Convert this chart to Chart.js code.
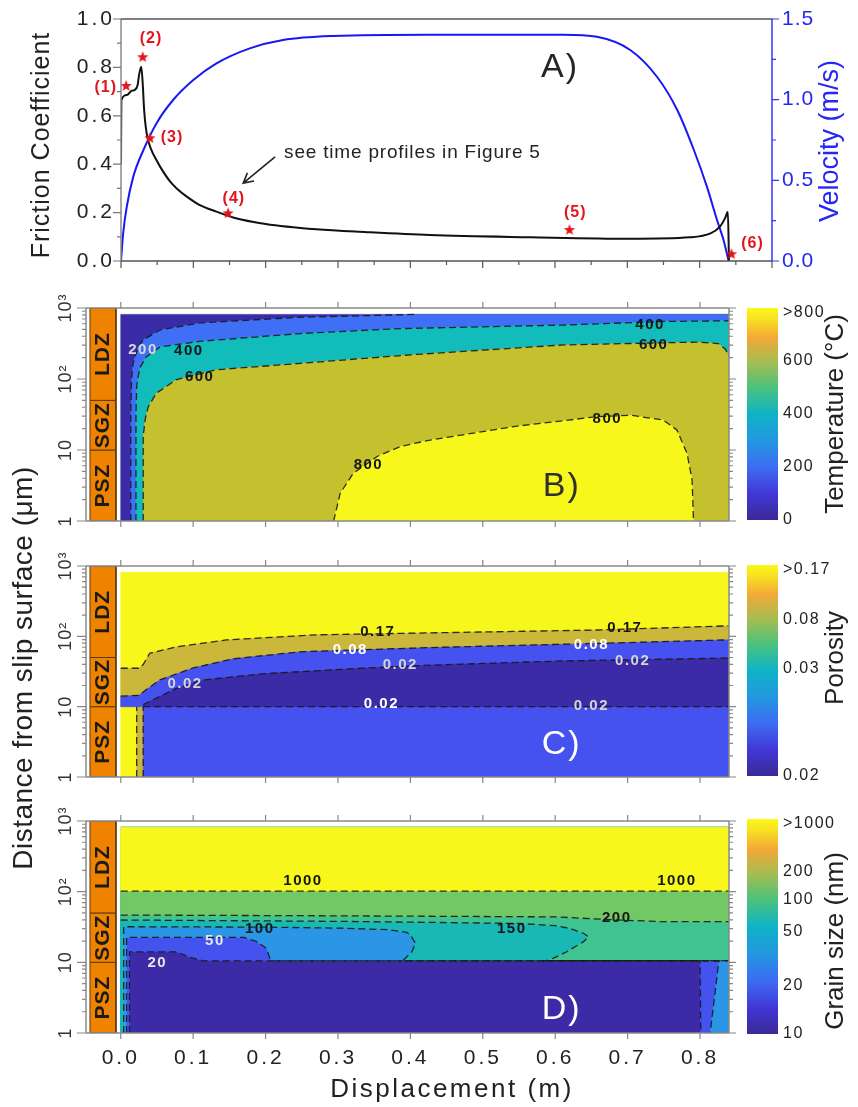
<!DOCTYPE html>
<html>
<head>
<meta charset="utf-8">
<title>Friction, temperature, porosity and grain size vs displacement</title>
<script src="https://cdn.jsdelivr.net/npm/chart.js@4.4.1/dist/chart.umd.min.js"></script>
<style>
  body { margin: 0; background: #fff; }
  #page { position: relative; width: 858px; height: 1107px; overflow: hidden; }
  #page canvas { position: absolute; }
</style>
</head>
<body>
<div id="page">
  <canvas id="cvA" width="858" height="282" style="left:0;top:0"></canvas>
  <canvas id="cvB" width="740" height="258" style="left:0;top:282px"></canvas>
  <canvas id="cvD" width="740" height="312" style="left:0;top:795px"></canvas>
  <canvas id="cvC" width="740" height="460" style="left:0;top:440px"></canvas>
  <canvas id="cbB" width="118" height="258" style="left:740px;top:282px"></canvas>
  <canvas id="cbC" width="118" height="258" style="left:740px;top:540px"></canvas>
  <canvas id="cbD" width="118" height="312" style="left:740px;top:795px"></canvas>
</div>
<script>
// ---- panel A: friction and velocity against displacement ----
var dispFric = [0, 0.0005, 0.008, 0.015, 0.019, 0.023, 0.025, 0.028, 0.030, 0.032, 0.0355, 0.042, 0.049, 0.054, 0.068, 0.077, 0.091, 0.109, 0.132, 0.155, 0.2, 0.27, 0.34, 0.427, 0.566, 0.704, 0.787, 0.815, 0.828, 0.835, 0.839, 0.8405];
var friction = [0.40, 0.665, 0.686, 0.704, 0.707, 0.727, 0.769, 0.803, 0.734, 0.624, 0.527, 0.459, 0.417, 0.39, 0.328, 0.30, 0.266, 0.231, 0.204, 0.18, 0.153, 0.131, 0.119, 0.107, 0.098, 0.092, 0.098, 0.114, 0.142, 0.176, 0.202, 0.0];
var dispVel = [0, 0.003, 0.008, 0.017, 0.031, 0.049, 0.072, 0.1, 0.132, 0.178, 0.224, 0.294, 0.427, 0.612, 0.658, 0.704, 0.741, 0.769, 0.792, 0.81, 0.824, 0.833, 0.84];
var velocity = [0, 0.172, 0.337, 0.523, 0.688, 0.853, 0.998, 1.122, 1.225, 1.318, 1.37, 1.395, 1.403, 1.403, 1.39, 1.308, 1.142, 0.936, 0.688, 0.461, 0.254, 0.13, 0];
var starDisp = [0.007, 0.030, 0.040, 0.148, 0.62, 0.844];
var starFric = [0.723, 0.842, 0.507, 0.197, 0.128, 0.028];
var starNames = ['(1)', '(2)', '(3)', '(4)', '(5)', '(6)'];

// ---- zones beside the maps (distance from slip surface, um) ----
var zoneNames = ['PSZ', 'SGZ', 'LDZ'];
var zoneBottom = [1, 10, 50];
var zoneTop = [10, 50, 1000];

// extent of the modelled maps
var mapEnd = 0.84;
var mapTop = 813;

// ---- panel B: temperature contours [displacement m, distance um] ----
var temp200 = [[0.0138, 1], [0.0138, 31.6], [0.015, 100], [0.017, 166], [0.024, 282], [0.031, 355], [0.054, 490], [0.109, 617], [0.248, 741], [0.41, 813]];
var temp400 = [[0.021, 1], [0.021, 31.6], [0.022, 79], [0.026, 141], [0.035, 204], [0.054, 282], [0.109, 339], [0.248, 437], [0.386, 513], [0.612, 575], [0.75, 646], [0.84, 661]];
var temp600 = [[0.031, 1], [0.031, 15.8], [0.034, 28], [0.038, 40.7], [0.049, 63], [0.077, 98], [0.132, 135], [0.248, 166], [0.4, 219], [0.612, 302], [0.796, 331], [0.825, 316], [0.835, 263], [0.84, 209]];
var temp800 = [[0.294, 1], [0.303, 2.45], [0.321, 4.68], [0.354, 8.1], [0.386, 11.2], [0.427, 13.8], [0.543, 21.4], [0.658, 29.5], [0.704, 30.9], [0.749, 26.5], [0.768, 19.2], [0.782, 9.0], [0.789, 3.8], [0.791, 1]];

// ---- panel C: porosity contours ----
var poro017 = [[0, 35.2], [0.025, 35.2], [0.031, 39.8], [0.04, 57.5], [0.077, 70.8], [0.146, 89], [0.27, 105], [0.427, 112], [0.658, 123], [0.84, 141]];
var poro008 = [[0, 14.1], [0.025, 14.5], [0.035, 17.4], [0.054, 24], [0.1, 35.5], [0.155, 47.9], [0.248, 60.3], [0.427, 69.2], [0.658, 79.4], [0.84, 89.1]];
var poro002a = [[0.031, 10.7], [0.049, 13.2], [0.077, 18.2], [0.114, 24], [0.2, 29.5], [0.34, 35.5], [0.427, 38.9], [0.612, 44.7], [0.84, 49]];
var poro002b = [[0.031, 10], [0.84, 10]];
var poroEdge1 = [[0.022, 1], [0.022, 10]];
var poroEdge2 = [[0.031, 1], [0.031, 10]];

// ---- panel D: grain size contours ----
var grain20 = [[0.012, 1], [0.012, 14.1], [0.077, 14.1], [0.095, 11.8], [0.114, 10.5], [0.80, 10.5], [0.801, 1]];
var grain50 = [[0.008, 1], [0.008, 22.5], [0.17, 22.5], [0.188, 19.6], [0.201, 15.8], [0.206, 11.4], [0.21, 10.5], [0.80, 10.5], [0.826, 10.5], [0.814, 1]];
var grain100 = [[0.004, 1], [0.004, 31.9], [0.2, 31.5], [0.3, 30.5], [0.37, 29], [0.395, 26.5], [0.40, 24.4], [0.407, 18.6], [0.402, 14.1], [0.393, 11.4], [0.389, 10.5], [0.84, 10.5]];
var grain150 = [[0, 39.7], [0.3, 38], [0.45, 36.5], [0.55, 35.5], [0.6, 33], [0.62, 30.2], [0.639, 25.8], [0.646, 23], [0.639, 19.6], [0.616, 14.1], [0.597, 11.4], [0.588, 10.6], [0.84, 10.6]];
var grain200 = [[0, 46.7], [0.3, 45.5], [0.6, 44], [0.68, 40], [0.75, 37.6], [0.84, 37.6]];
var grain1000 = [[0, 102], [0.84, 102]];

// ---- axis ticks ----
var logMajor = [1, 10, 100, 1000];
var logMajorText = ['1', '10', '10²', '10³'];
var logMinor = [2, 3, 4, 5, 6, 7, 8, 9, 20, 30, 40, 50, 60, 70, 80, 90, 200, 300, 400, 500, 600, 700, 800, 900];
var dispTicks = [0, 0.1, 0.2, 0.3, 0.4, 0.5, 0.6, 0.7, 0.8];
var dispTickText = ['0.0', '0.1', '0.2', '0.3', '0.4', '0.5', '0.6', '0.7', '0.8'];

// ---- colour bars ----
var tempBarTicks = [0, 200, 400, 600, 800];
var tempBarText = ['0', '200', '400', '600', '>800'];
var poroBarTicks = [0, 0.51, 0.74, 0.98];
var poroBarText = ['0.02', '0.03', '0.08', '>0.17'];
var grainBarTicks = [0, 0.224, 0.476, 0.623, 0.756, 0.978];
var grainBarText = ['10', '20', '50', '100', '200', '>1000'];
var parulaStops = [[0, '#3a2a96'], [0.12, '#4136d6'], [0.25, '#3d6cf2'], [0.37, '#2397e0'], [0.5, '#0fb3c6'], [0.62, '#48c27f'], [0.74, '#a2bd52'], [0.86, '#f3a937'], [0.95, '#f8e21f'], [1, '#f9f81a']];

Chart.defaults.font.family = "'Liberation Sans', Arial, sans-serif";
Chart.defaults.animation = false;
Chart.defaults.events = [];
Chart.defaults.plugins.legend.display = false;
Chart.defaults.plugins.tooltip.enabled = false;

var FONT = "'Liberation Sans', Arial, sans-serif";

// axes, tick marks and text drawn from each chart's scales
var decoSpec = {};
function drawText(ctx, text, x, y, st) {
    ctx.save();
    ctx.font = st.font;
    ctx.fillStyle = st.color || '#222';
    ctx.textAlign = st.align || 'center';
    ctx.textBaseline = 'middle';
    if ('letterSpacing' in ctx) ctx.letterSpacing = (st.spacing || 0) + 'px';
    ctx.translate(x, y);
    if (st.rot) ctx.rotate(st.rot * Math.PI / 180);
    ctx.fillText(text, 0, 0);
    ctx.restore();
}
var decoPlugin = {
    id: 'deco',
    afterDatasetsDraw: function (chart) {
        var s = decoSpec[chart.canvas.id];
        if (!s) return;
        var ctx = chart.ctx, a = chart.chartArea;
        ctx.save();
        (s.frame || []).forEach(function (f) {
            ctx.strokeStyle = f.color;
            ctx.lineWidth = f.width || 1.5;
            ctx.beginPath();
            if (f.side === 'left') { ctx.moveTo(a.left, a.top); ctx.lineTo(a.left, a.bottom); }
            if (f.side === 'right') { ctx.moveTo(a.right, a.top); ctx.lineTo(a.right, a.bottom); }
            if (f.side === 'top') { ctx.moveTo(a.left, a.top); ctx.lineTo(a.right, a.top); }
            if (f.side === 'bottom') { ctx.moveTo(a.left, a.bottom); ctx.lineTo(a.right, a.bottom); }
            ctx.stroke();
        });
        (s.ticks || []).forEach(function (t) {
            var sc = chart.scales[t.scale];
            ctx.strokeStyle = t.color;
            ctx.lineWidth = t.width || 1.2;
            ctx.beginPath();
            t.values.forEach(function (v) {
                var p = sc.getPixelForValue(v);
                if (t.side === 'left') { ctx.moveTo(a.left, p); ctx.lineTo(a.left - t.len, p); }
                if (t.side === 'right') { ctx.moveTo(a.right, p); ctx.lineTo(a.right + t.len, p); }
                if (t.side === 'top') { ctx.moveTo(p, a.top); ctx.lineTo(p, a.top - t.len); }
                if (t.side === 'bottom') { ctx.moveTo(p, a.bottom); ctx.lineTo(p, a.bottom + t.len); }
            });
            ctx.stroke();
        });
        (s.tickLabels || []).forEach(function (t) {
            var sc = chart.scales[t.scale];
            t.values.forEach(function (v, i) {
                var p = sc.getPixelForValue(v), x, y;
                if (t.side === 'left') { x = a.left - t.gap; y = p; }
                else if (t.side === 'right') { x = a.right + t.gap; y = Math.max(p, a.top + (t.inset || 0)); }
                else { x = p; y = a.bottom + t.gap; }
                drawText(ctx, t.texts[i], x, y, t);
            });
        });
        (s.texts || []).forEach(function (t) {
            var x = chart.scales[t.xs || 'x'].getPixelForValue(t.x);
            var y = chart.scales[t.ys || 'y'].getPixelForValue(t.y);
            drawText(ctx, t.text, x, y, t);
        });
        (s.arrows || []).forEach(function (r) {
            var xs = chart.scales.x, ys = chart.scales[r.ys || 'y'];
            var x1 = xs.getPixelForValue(r.x1), y1 = ys.getPixelForValue(r.y1);
            var x2 = xs.getPixelForValue(r.x2), y2 = ys.getPixelForValue(r.y2);
            var ang = Math.atan2(y2 - y1, x2 - x1);
            ctx.strokeStyle = '#222';
            ctx.lineWidth = 1.6;
            ctx.beginPath();
            ctx.moveTo(x1, y1); ctx.lineTo(x2, y2);
            ctx.moveTo(x2 - 11 * Math.cos(ang - 0.5), y2 - 11 * Math.sin(ang - 0.5));
            ctx.lineTo(x2, y2);
            ctx.lineTo(x2 - 11 * Math.cos(ang + 0.5), y2 - 11 * Math.sin(ang + 0.5));
            ctx.stroke();
        });
        (s.titles || []).forEach(function (t) { drawText(ctx, t.text, t.px, t.py, t); });
        ctx.restore();
    }
};

function pts(arr) { return arr.map(function (p) { return { x: p[0], y: p[1] }; }); }
function region(arr, color) {
    return { data: pts(arr.concat([arr[0]])), fill: 'shape', backgroundColor: color, borderColor: color, borderWidth: 0.6, pointRadius: 0 };
}
function contour(arr) {
    return { data: pts(arr), fill: false, borderColor: 'rgba(25,25,25,0.9)', borderWidth: 1.3, borderDash: [7, 4], pointRadius: 0 };
}
var zoneX = [-0.0425, -0.0066];
function zoneBoxes() {
    return zoneNames.map(function (n, i) {
        var box = [[zoneX[0], zoneBottom[i]], [zoneX[0], zoneTop[i]], [zoneX[1], zoneTop[i]], [zoneX[1], zoneBottom[i]], [zoneX[0], zoneBottom[i]]];
        return { data: pts(box), fill: 'shape', backgroundColor: '#ef8300', borderColor: '#5a3c14', borderWidth: 1, pointRadius: 0 };
    });
}
function zoneLabels() {
    return zoneNames.map(function (n, i) {
        return { x: (zoneX[0] + zoneX[1]) / 2, y: Math.sqrt(zoneBottom[i] * zoneTop[i]), text: n, rot: -90, font: 'bold 21px ' + FONT, color: '#1a1a1a', spacing: 1 };
    });
}
function lab(x, y, text, color) {
    return { x: x, y: y, text: text, font: 'bold 15px ' + FONT, color: color || '#161616', spacing: 1.5 };
}
function fullMap() { return [[0, 1], [0, mapTop], [mapEnd, mapTop], [mapEnd, 1]]; }

function mapSpec(labels) {
    var gray = '#888';
    return {
        frame: ['left', 'top', 'right', 'bottom'].map(function (s) { return { side: s, color: gray, width: 1.5 }; }),
        ticks: [
            { scale: 'y', side: 'left', values: logMajor, len: 9, color: gray },
            { scale: 'y', side: 'left', values: logMinor, len: 4, color: gray },
            { scale: 'y', side: 'right', values: logMajor, len: 7, color: gray },
            { scale: 'y', side: 'right', values: logMinor, len: 4, color: gray },
            { scale: 'x', side: 'top', values: dispTicks, len: 6, color: gray },
            { scale: 'x', side: 'bottom', values: dispTicks, len: 6, color: gray }
        ],
        tickLabels: [{ scale: 'y', side: 'left', values: logMajor, texts: logMajorText, gap: 20, rot: -90, font: '18px ' + FONT, color: '#333', spacing: 1 }],
        texts: labels.concat(zoneLabels())
    };
}
function mapChart(id, datasets, pad) {
    datasets.forEach(function (d, i) { d.order = -i; });
    return new Chart(document.getElementById(id), {
        type: 'line',
        data: { datasets: datasets },
        options: {
            responsive: false,
            devicePixelRatio: 1,
            layout: { padding: pad },
            scales: {
                x: { type: 'linear', min: -0.048, max: 0.84, display: false },
                y: { type: 'logarithmic', min: 1, max: 1000, display: false }
            }
        },
        plugins: [decoPlugin]
    });
}

// ---------- panel A ----------
function makeStar(r, color) {
    var c = document.createElement('canvas');
    c.width = c.height = 2 * r + 2;
    var g = c.getContext('2d');
    g.fillStyle = color;
    g.beginPath();
    for (var i = 0; i < 10; i++) {
        var ang = -Math.PI / 2 + i * Math.PI / 5;
        var rr = i % 2 ? r * 0.42 : r;
        g.lineTo(r + 1 + rr * Math.cos(ang), r + 1 + rr * Math.sin(ang));
    }
    g.closePath();
    g.fill();
    return c;
}
var starImg = makeStar(6, '#e3141c');

var starLabelPos = [[-0.021, 0.715], [0.0415, 0.917], [0.0705, 0.508], [0.156, 0.256], [0.628, 0.198], [0.873, 0.070]];
decoSpec.cvA = {
    frame: [
        { side: 'left', color: '#8a8a8a', width: 1.5 },
        { side: 'top', color: '#555', width: 1.3 },
        { side: 'bottom', color: '#555', width: 1.5 },
        { side: 'right', color: '#3434ff', width: 1.5 }
    ],
    ticks: [
        { scale: 'yF', side: 'left', values: [0, 0.2, 0.4, 0.6, 0.8, 1.0], len: 8, color: '#777' },
        { scale: 'yF', side: 'left', values: [0.1, 0.3, 0.5, 0.7, 0.9], len: 4, color: '#777' },
        { scale: 'x', side: 'bottom', values: [0, 0.1, 0.2, 0.3, 0.4, 0.5, 0.6, 0.7, 0.8, 0.9], len: 7, color: '#555' },
        { scale: 'x', side: 'bottom', values: [0.05, 0.15, 0.25, 0.35, 0.45, 0.55, 0.65, 0.75, 0.85], len: 4, color: '#555' },
        { scale: 'yV', side: 'right', values: [0, 0.5, 1.0, 1.5], len: 7, color: '#3434ff' },
        { scale: 'yV', side: 'right', values: [0.25, 0.75, 1.25], len: 4, color: '#3434ff' }
    ],
    tickLabels: [
        { scale: 'yF', side: 'left', values: [0, 0.2, 0.4, 0.6, 0.8, 1.0], texts: ['0.0', '0.2', '0.4', '0.6', '0.8', '1.0'], gap: 6, align: 'right', font: '21px ' + FONT, color: '#222', spacing: 3 },
        { scale: 'yV', side: 'right', values: [0, 0.5, 1.0, 1.5], texts: ['0.0', '0.5', '1.0', '1.5'], gap: 10, align: 'left', font: '21px ' + FONT, color: '#2727f5', spacing: 1 }
    ],
    texts: starNames.map(function (n, i) {
        return { x: starLabelPos[i][0], y: starLabelPos[i][1], ys: 'yF', text: n, font: 'bold 16px ' + FONT, color: '#e3141c', spacing: 1 };
    }).concat([
        { x: 0.2255, y: 0.446, ys: 'yF', text: 'see time profiles in Figure 5', align: 'left', font: '19px ' + FONT, color: '#222', spacing: 0.8 },
        { x: 0.607, y: 0.80, ys: 'yF', text: 'A)', font: '34px ' + FONT, color: '#262626', spacing: 2 }
    ]),
    arrows: [{ x1: 0.213, y1: 0.43, x2: 0.169, y2: 0.322, ys: 'yF' }],
    titles: [
        { text: 'Friction Coefficient', px: 42, py: 145, rot: -90, font: '25px ' + FONT, color: '#222', spacing: 1 },
        { text: 'Velocity (m/s)', px: 831, py: 141, rot: -90, font: '27px ' + FONT, color: '#2727f5' }
    ]
};
new Chart(document.getElementById('cvA'), {
    type: 'line',
    data: {
        datasets: [
            { data: dispFric.map(function (x, i) { return { x: x, y: friction[i] }; }), yAxisID: 'yF', borderColor: '#111', borderWidth: 2, pointRadius: 0, cubicInterpolationMode: 'monotone', order: 1 },
            { data: dispVel.map(function (x, i) { return { x: x, y: velocity[i] }; }), yAxisID: 'yV', borderColor: '#1818f5', borderWidth: 2, pointRadius: 0, cubicInterpolationMode: 'monotone', order: 2 },
            { data: starDisp.map(function (x, i) { return { x: x, y: starFric[i] }; }), yAxisID: 'yF', showLine: false, pointStyle: starImg, pointRadius: 6, clip: false, order: 0 }
        ]
    },
    options: {
        responsive: false,
        devicePixelRatio: 1,
        layout: { padding: { left: 121, right: 86, top: 19, bottom: 21 } },
        scales: {
            x: { type: 'linear', min: 0, max: 0.9, display: false },
            yF: { type: 'linear', position: 'left', min: 0, max: 1, display: false },
            yV: { type: 'linear', position: 'right', min: 0, max: 1.5, display: false }
        }
    },
    plugins: [decoPlugin]
});

// ---------- panel B: temperature ----------
decoSpec.cvB = mapSpec([
    lab(0.0307, 256, '200', '#d8d8d8'), lab(0.094, 248, '400'), lab(0.109, 107, '600'),
    lab(0.731, 575, '400'), lab(0.736, 301, '600'), lab(0.342, 6.15, '800'), lab(0.672, 27.3, '800'),
    { x: 0.609, y: 3.0, text: 'B)', font: '34px ' + FONT, color: '#303030', spacing: 2 }
]);
mapChart('cvB', [
    region(fullMap(), '#3a2ca6'),
    region(temp200.concat([[mapEnd, mapTop], [mapEnd, 1]]), '#3f6ff4'),
    region(temp400.concat([[mapEnd, 1]]), '#11bcbb'),
    region(temp600.concat([[mapEnd, 1]]), '#c5c02e'),
    region(temp800, '#f7f71b'),
    contour(temp200), contour(temp400), contour(temp600), contour(temp800)
].concat(zoneBoxes()), { left: 86, right: 11, top: 26, bottom: 19 });

// ---------- panel C: porosity ----------
decoSpec.cvC = mapSpec([
    lab(0.355, 116, '0.17'), lab(0.317, 64, '0.08', '#ffffff'), lab(0.386, 39.1, '0.02', '#d4d4d4'),
    lab(0.0887, 21, '0.02', '#d4d4d4'), lab(0.36, 10.8, '0.02', '#ffffff'),
    lab(0.696, 131, '0.17'), lab(0.650, 75.3, '0.08', '#ffffff'), lab(0.707, 45, '0.02', '#d4d4d4'), lab(0.650, 10.2, '0.02', '#d4d4d4'),
    { x: 0.609, y: 2.85, text: 'C)', font: '34px ' + FONT, color: '#ffffff', spacing: 2 }
]);
decoSpec.cvC.titles = [{ text: 'Distance from slip surface (μm)', px: 24, py: 228, rot: -90, font: '28px ' + FONT, color: '#222', spacing: 0.5 }];
mapChart('cvC', [
    region(fullMap(), '#f7f71b'),
    region([[0, 10]].concat(poro017, [[mapEnd, 1], [0.022, 1], [0.022, 10]]), '#cbb83a'),
    region([[0, 10]].concat(poro008, [[mapEnd, 1], [0.031, 1], [0.031, 10]]), '#4652ef'),
    region(poro002a.concat([[mapEnd, 10], [0.031, 10]]), '#3b2ba6'),
    contour(poro017), contour(poro008), contour(poro002a), contour(poro002b), contour(poroEdge1), contour(poroEdge2)
].concat(zoneBoxes()), { left: 86, right: 11, top: 126, bottom: 123 });

// ---------- panel D: grain size ----------
decoSpec.cvD = mapSpec([
    lab(0.2517, 143, '1000'), lab(0.768, 143, '1000'), lab(0.685, 42, '200'), lab(0.54, 29.3, '150'),
    lab(0.192, 29.3, '100'), lab(0.130, 20.2, '50', '#e6e6e6'), lab(0.0504, 9.7, '20', '#e6e6e6'),
    { x: 0.609, y: 2.11, text: 'D)', font: '34px ' + FONT, color: '#ffffff', spacing: 2 }
]);
decoSpec.cvD.tickLabels.push({ scale: 'x', side: 'bottom', values: dispTicks, texts: dispTickText, gap: 25, font: '21px ' + FONT, color: '#222', spacing: 3 });
decoSpec.cvD.titles = [{ text: 'Displacement (m)', px: 452, py: 295, font: '26px ' + FONT, color: '#222', spacing: 2.5 }];
mapChart('cvD', [
    region(fullMap(), '#3c2aa6'),
    region([[0, 1]].concat(grain20, [[mapEnd, 1], [mapEnd, mapTop], [0, mapTop]]), '#4452ee'),
    region([[0, 1]].concat(grain50, [[mapEnd, 1], [mapEnd, mapTop], [0, mapTop]]), '#2b95e6'),
    region([[0, 1]].concat(grain100, [[mapEnd, mapTop], [0, mapTop]]), '#1ab8b5'),
    region(grain150.concat([[mapEnd, mapTop], [0, mapTop]]), '#3fc391'),
    region(grain200.concat([[mapEnd, mapTop], [0, mapTop]]), '#72c864'),
    region(grain1000.concat([[mapEnd, mapTop], [0, mapTop]]), '#f7f71b'),
    contour(grain20), contour(grain50), contour(grain100), contour(grain150), contour(grain200), contour(grain1000)
].concat(zoneBoxes()), { left: 86, right: 11, top: 26, bottom: 74 });

// ---------- colour bars ----------
function parulaFill(c) {
    var a = c.chart.chartArea;
    if (!a) return '#888';
    var g = c.chart.ctx.createLinearGradient(0, a.bottom, 0, a.top);
    parulaStops.forEach(function (s) { g.addColorStop(s[0], s[1]); });
    return g;
}
function colorBar(id, max, ticks, texts, title, titlePy, pad) {
    decoSpec[id] = {
        tickLabels: [{ scale: 'y', side: 'right', values: ticks, texts: texts, gap: 5, inset: 5, align: 'left', font: '16px ' + FONT, color: '#222', spacing: 1.5 }],
        titles: [{ text: title, px: 96, py: titlePy, rot: -90, font: '26px ' + FONT, color: '#222' }]
    };
    new Chart(document.getElementById(id), {
        type: 'bar',
        data: { labels: [''], datasets: [{ data: [[0, max]], backgroundColor: parulaFill, borderWidth: 0, barPercentage: 1, categoryPercentage: 1 }] },
        options: {
            responsive: false,
            devicePixelRatio: 1,
            layout: { padding: pad },
            scales: { x: { display: false }, y: { display: false, min: 0, max: max } }
        },
        plugins: [decoPlugin]
    });
}
colorBar('cbB', 800, tempBarTicks, tempBarText, 'Temperature (°C)', 132, { left: 7, right: 80, top: 26, bottom: 20 });
colorBar('cbC', 1, poroBarTicks, poroBarText, 'Porosity', 118, { left: 7, right: 80, top: 25, bottom: 22 });
colorBar('cbD', 1, grainBarTicks, grainBarText, 'Grain size (nm)', 146, { left: 7, right: 80, top: 24, bottom: 73 });
</script>
</body>
</html>
